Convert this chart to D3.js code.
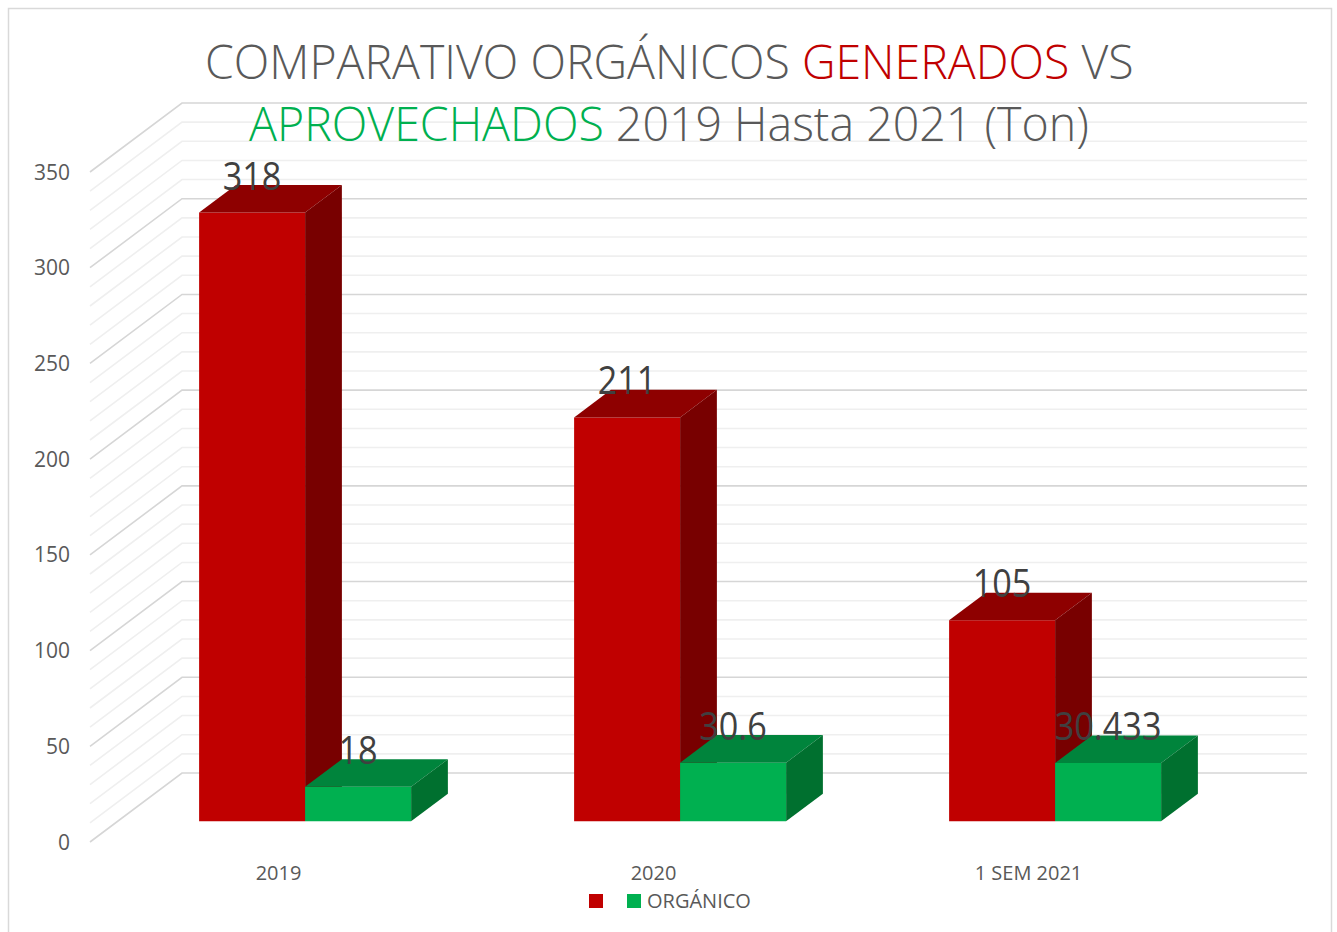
<!DOCTYPE html>
<html>
<head>
<meta charset="utf-8">
<script src="https://cdn.jsdelivr.net/npm/d3@7"></script>
<style>
  html, body { margin: 0; padding: 0; background: #fff; }
  svg { display: block; font-family: "Open Sans", "Noto Sans", sans-serif; }
</style>
</head>
<body>
<svg id="chart" width="1337" height="932"></svg>
<script>
// ---- Data ----
const categories = ["2019", "2020", "1 SEM 2021"];
const generados = [318, 211, 105];
const aprovechados = [18, 30.6, 30.433];
const seriesNames = ["", "ORGÁNICO"];
const yTicks = [0, 50, 100, 150, 200, 250, 300, 350];
const gridStep = 10;

// ---- Layout ----
const svg = d3.select("#chart");
const DX = 92, DY = 69;           // oblique depth offset of the floor
const D0 = 0.3, D1 = 0.7;         // bar depth span
const frontLeft = 90, frontRight = 1215;

const colors = {
  gen: { front: "#C00000", top: "#8E0000", side: "#780000" },
  apr: { front: "#00B050", top: "#00843C", side: "#00702F" }
};

const y = d3.scaleLinear().domain([0, 350]).range([842, 172]);
const x0 = d3.scaleBand().domain(categories).range([frontLeft, frontRight])
  .paddingInner(0.4347).paddingOuter(0.21735);
const x1 = d3.scaleBand().domain(["gen", "apr"]).range([0, x0.bandwidth()]);

function proj(xf, v, d) { return [xf + DX * d, y(v) - DY * d]; }

// border
svg.append("rect").attr("x", 8.5).attr("y", 8.5).attr("width", 1323).attr("height", 940)
  .attr("fill", "#fff").attr("stroke", "#d9d9d9").attr("stroke-width", 1.5);

// gridlines (side wall + back wall)
const grid = svg.append("g");
const gridVals = d3.range(0, 350 + 0.001, gridStep);
gridVals.forEach(v => {
  const major = v % 50 === 0;
  const c = major ? "#d6d6d6" : "#efefef";
  const a = proj(frontLeft, v, 0), b = proj(frontLeft, v, 1), e = proj(frontRight, v, 1);
  grid.append("path").attr("d", `M${a[0]},${a[1]}L${b[0]},${b[1]}L${e[0]},${e[1]}`)
    .attr("fill", "none").attr("stroke", c).attr("stroke-width", 1.6);
});

// y axis labels
svg.append("g").selectAll("text").data(yTicks).join("text")
  .attr("x", 70).attr("y", d => y(d)).attr("dy", "0.36em")
  .attr("text-anchor", "end").attr("font-size", 21).attr("fill", "#595959")
  .text(d => d);

// category labels
svg.append("g").selectAll("text").data(categories).join("text")
  .attr("x", d => x0(d) + x0.bandwidth() / 2 + 1)
  .attr("y", 880).attr("text-anchor", "middle").attr("font-size", 20).attr("fill", "#595959")
  .text(d => d);

// bars
const barsData = [];
categories.forEach((c, i) => {
  barsData.push({ cat: c, key: "gen", v: generados[i] });
  barsData.push({ cat: c, key: "apr", v: aprovechados[i] });
});
const poly = pts => "M" + pts.map(p => p.join(",")).join("L") + "Z";
const bars = svg.append("g");
barsData.forEach(b => {
  const xa = x0(b.cat) + x1(b.key), xb = xa + x1.bandwidth();
  const col = colors[b.key];
  const g = bars.append("g");
  g.append("path").attr("d", poly([proj(xa, 0, D0), proj(xb, 0, D0), proj(xb, b.v, D0), proj(xa, b.v, D0)]))
    .attr("fill", col.front);
  g.append("path").attr("d", poly([proj(xa, b.v, D0), proj(xb, b.v, D0), proj(xb, b.v, D1), proj(xa, b.v, D1)]))
    .attr("fill", col.top);
  g.append("path").attr("d", poly([proj(xb, 0, D0), proj(xb, 0, D1), proj(xb, b.v, D1), proj(xb, b.v, D0)]))
    .attr("fill", col.side);
  b.cx = proj((xa + xb) / 2, b.v, D0);
});

// value labels (slightly condensed to mimic Calibri)
svg.append("g").selectAll("text").data(barsData).join("text")
  .attr("transform", d => `translate(${d.cx[0]},${d.cx[1] - 23}) scale(0.9,1)`)
  .attr("text-anchor", "middle").attr("font-size", 38).attr("fill", "#404040")
  .text(d => String(d.v));

// legend
const lg = svg.append("g");
lg.append("rect").attr("x", 589).attr("y", 894).attr("width", 14).attr("height", 14).attr("fill", colors.gen.front);
lg.append("rect").attr("x", 627).attr("y", 894).attr("width", 14).attr("height", 14).attr("fill", colors.apr.front);
lg.append("text").attr("x", 647).attr("y", 908).attr("font-size", 20).attr("fill", "#595959").text(seriesNames[1]);

// title
function titleLine(parts, baseline, left, right) {
  const t = svg.append("text").attr("y", baseline).attr("font-size", 48).attr("font-weight", 300).attr("x", 0);
  parts.forEach(p => t.append("tspan").attr("fill", p.c).text(p.t));
  const w = t.node().getComputedTextLength();
  const sx = (right - left) / w;
  t.attr("transform", `translate(${left},0) scale(${sx},1)`);
}
titleLine([
  { t: "COMPARATIVO ORGÁNICOS ", c: "#595959" },
  { t: "GENERADOS", c: "#C00000" },
  { t: " VS", c: "#595959" }
], 79, 205, 1134);
titleLine([
  { t: "APROVECHADOS", c: "#00B050" },
  { t: " 2019 Hasta 2021 (Ton)", c: "#595959" }
], 141, 249, 1089);
</script>
</body>
</html>
